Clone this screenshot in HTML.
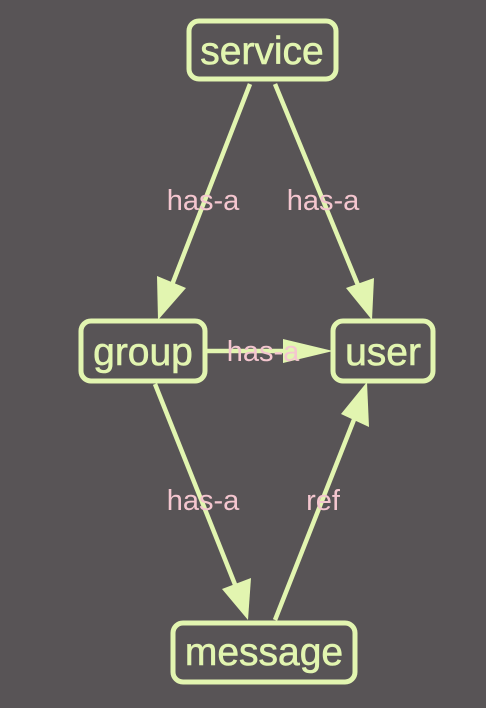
<!DOCTYPE html>
<html><head><style>
html,body{margin:0;padding:0;background:#585456;}
svg{display:block}
text{font-family:"Liberation Sans",Arial,sans-serif;}
</style></head><body>
<svg width="486" height="708" viewBox="0 0 486 708" xmlns="http://www.w3.org/2000/svg">
<rect width="486" height="708" fill="#585456"/>
<g stroke="#e2f5b0" stroke-width="4.5" fill="none">
<line x1="250" y1="84" x2="170" y2="290"/>
<line x1="275" y1="84" x2="360" y2="290"/>
<line x1="155" y1="384" x2="238" y2="592"/>
<line x1="275" y1="620" x2="357" y2="412"/>
<line x1="206" y1="351" x2="300" y2="351"/>
</g>
<g fill="#e2f5b0">
<polygon points="158,320 157,276 186,288"/>
<polygon points="372,320 346,288 374,278"/>
<polygon points="248,620 222,589 251,578"/>
<polygon points="367,382 369,427 341,414"/>
<polygon points="333,351 283,339 283,363"/>
</g>
<g stroke="#e2f5b0" stroke-width="5" fill="#585456">
<rect x="189" y="21" width="147" height="58" rx="10"/>
<rect x="81" y="321" width="124" height="60" rx="10"/>
<rect x="333" y="321" width="100" height="60" rx="10"/>
<rect x="173" y="623" width="182" height="59" rx="10"/>
</g>
<g fill="#e2f5b0" font-size="39" text-anchor="middle" stroke="#e2f5b0" stroke-width="0.6">
<text x="262" y="64">service</text>
<text x="143" y="365">group</text>
<text x="383" y="365">user</text>
<text x="264" y="665">message</text>
</g>
<g fill="#f4c6cf" font-size="29" text-anchor="middle">
<text x="203" y="210">has-a</text>
<text x="323" y="210">has-a</text>
<text x="263" y="361">has-a</text>
<text x="203" y="510">has-a</text>
<text x="323" y="510">ref</text>
</g>
</svg>
</body></html>
